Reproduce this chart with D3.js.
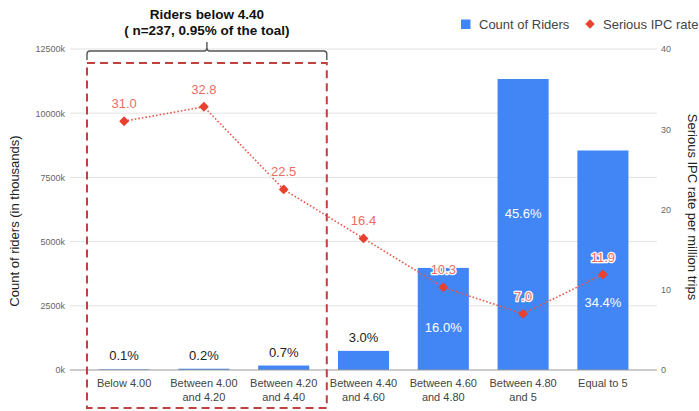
<!DOCTYPE html>
<html>
<head>
<meta charset="utf-8">
<script src="https://cdn.jsdelivr.net/npm/d3@7"></script>
<style>
  html, body { margin: 0; padding: 0; background: #fff; }
  svg { display: block; font-family: "Liberation Sans", Arial, sans-serif; }
</style>
</head>
<body>
<svg id="chart" width="699" height="411"></svg>
<script>
// Rider rating buckets
const categories = [
  ["Below 4.00"],
  ["Between 4.00", "and 4.20"],
  ["Between 4.20", "and 4.40"],
  ["Between 4.40", "and 4.60"],
  ["Between 4.60", "and 4.80"],
  ["Between 4.80", "and 5"],
  ["Equal to 5"]
];
// Count of riders (thousands)
const riderCounts = [25, 50, 174, 745, 3976, 11332, 8548];
// Share of all riders
const riderShares = ["0.1%", "0.2%", "0.7%", "3.0%", "16.0%", "45.6%", "34.4%"];
// Serious IPC rate per million trips
const ipcRates = [31.0, 32.8, 22.5, 16.4, 10.3, 7.0, 11.9];
// Axis ticks
const leftTicks = [0, 2500, 5000, 7500, 10000, 12500];
const rightTicks = [0, 10, 20, 30, 40];
const legendLabels = ["Count of Riders", "Serious IPC rate"];
const groupTitle = ["Riders below 4.40", "( n=237, 0.95% of the toal)"];

const BLUE = "#4285f4";
const RED = "#e8412f";
const RED_TEXT = "#ec6c5f";

const svg = d3.select("#chart");
const plot = { left: 70, right: 657, top: 49, bottom: 370 };

const keys = categories.map(c => c.join(" "));
const x = d3.scaleBand().domain(keys).range([plot.left, plot.right])
  .paddingInner(0.36).paddingOuter(0.358);
const yL = d3.scaleLinear().domain([0, 12500]).range([plot.bottom, plot.top]);
const yR = d3.scaleLinear().domain([0, 40]).range([plot.bottom, plot.top]);
const bw = x.bandwidth();
const cx = i => x(keys[i]) + bw / 2;

// Gridlines and left tick labels
const leftAxis = d3.axisLeft(yL).tickValues(leftTicks).tickSize(0).tickPadding(5)
  .tickFormat(d => d + "k");
svg.append("g").attr("transform", `translate(${plot.left},0)`).call(leftAxis)
  .call(g => g.select(".domain").remove())
  .call(g => g.selectAll("text").attr("fill", "#666").attr("font-size", 9)
    .attr("font-family", "Liberation Sans, Arial, sans-serif"));
svg.append("g").selectAll("line").data(leftTicks.filter(d => d > 0)).join("line")
  .attr("x1", plot.left).attr("x2", plot.right)
  .attr("y1", d => yL(d)).attr("y2", d => yL(d))
  .attr("stroke", "#e2e2e2").attr("stroke-width", 1);

// Right tick labels
const rightAxis = d3.axisRight(yR).tickValues(rightTicks).tickSize(0).tickPadding(4);
svg.append("g").attr("transform", `translate(${plot.right},0)`).call(rightAxis)
  .call(g => g.select(".domain").remove())
  .call(g => g.selectAll("text").attr("fill", "#666").attr("font-size", 9)
    .attr("font-family", "Liberation Sans, Arial, sans-serif"));

// Bars
svg.append("g").selectAll("rect").data(riderCounts).join("rect")
  .attr("x", (d, i) => x(keys[i])).attr("width", bw)
  .attr("y", d => yL(d)).attr("height", d => plot.bottom - yL(d))
  .attr("fill", BLUE);

// Baseline
svg.append("line").attr("x1", plot.left).attr("x2", plot.right)
  .attr("y1", yL(0)).attr("y2", yL(0)).attr("stroke", "#999").attr("stroke-width", 1);

// Category labels
const catG = svg.append("g").attr("font-size", 11).attr("fill", "#444").attr("text-anchor", "middle");
categories.forEach((lines, i) => {
  const t = catG.append("text").attr("x", cx(i)).attr("y", plot.bottom + 17);
  lines.forEach((ln, j) => t.append("tspan").attr("x", cx(i)).attr("dy", j === 0 ? 0 : 14).text(ln));
});

// Share labels: above short bars, inside tall bars
const insideFrac = [null, null, null, null, 0.58, 0.46, 0.69];
svg.append("g").attr("font-size", 13).attr("text-anchor", "middle")
  .selectAll("text").data(riderShares).join("text")
  .attr("x", (d, i) => cx(i))
  .attr("y", (d, i) => {
    const top = yL(riderCounts[i]);
    if (insideFrac[i] === null) return top - 9;
    return top + (plot.bottom - top) * insideFrac[i] + 4.7;
  })
  .attr("fill", (d, i) => insideFrac[i] === null ? "#222" : "#fff")
  .text(d => d);

// Rate line
const line = d3.line().x((d, i) => cx(i)).y(d => yR(d));
svg.append("path").datum(ipcRates).attr("d", line)
  .attr("fill", "none").attr("stroke", "#e8584a").attr("stroke-width", 1.6)
  .attr("stroke-dasharray", "1.6,2");

const diamond = d3.symbol().type(d3.symbolDiamond2).size(62);
svg.append("g").selectAll("path").data(ipcRates).join("path")
  .attr("d", diamond)
  .attr("transform", (d, i) => `translate(${cx(i)},${yR(d)})`)
  .attr("fill", RED);

svg.append("g").attr("font-size", 13).attr("text-anchor", "middle")
  .selectAll("text").data(ipcRates).join("text")
  .attr("x", (d, i) => cx(i)).attr("y", d => yR(d) - 13)
  .attr("fill", RED_TEXT)
  .attr("stroke", "#fff").attr("stroke-width", 2.5).attr("stroke-linejoin", "round")
  .attr("paint-order", "stroke")
  .text(d => d.toFixed(1));

// Axis titles
svg.append("text").attr("transform", `translate(19,221) rotate(-90)`)
  .attr("text-anchor", "middle").attr("font-size", 13).attr("fill", "#222")
  .text("Count of riders (in thousands)");
svg.append("text").attr("transform", `translate(688,207) rotate(90)`)
  .attr("text-anchor", "middle").attr("font-size", 13).attr("fill", "#222")
  .text("Serious IPC rate per million trips");

// Legend
const lg = svg.append("g").attr("font-size", 13).attr("fill", "#444");
lg.append("rect").attr("x", 461).attr("y", 19.5).attr("width", 9.5).attr("height", 9.5).attr("fill", BLUE);
lg.append("text").attr("x", 479).attr("y", 28.5).text(legendLabels[0]);
lg.append("path").attr("d", d3.symbol().type(d3.symbolDiamond2).size(56))
  .attr("transform", "translate(590,24)").attr("fill", RED);
lg.append("text").attr("x", 603).attr("y", 28.5).text(legendLabels[1]);

// Highlight box around the low-rating groups
const step = x.step();
const boxL = x(keys[0]) - 0.145 * step;
const boxR = x(keys[2]) + bw + 0.22 * step;
const boxT = 63, boxB = 408;
svg.append("rect").attr("x", boxL).attr("y", boxT)
  .attr("width", boxR - boxL).attr("height", boxB - boxT)
  .attr("fill", "none").attr("stroke", "#c0413d").attr("stroke-width", 2)
  .attr("stroke-dasharray", "8,5");

// Curly brace above the box
const bY = 51, mid = (boxL + boxR) / 2, r = 3;
const brace = d3.path();
brace.moveTo(boxL, 60);
brace.lineTo(boxL, bY + r);
brace.quadraticCurveTo(boxL, bY, boxL + r, bY);
brace.lineTo(mid - r, bY);
brace.quadraticCurveTo(mid, bY, mid, bY - r);
brace.lineTo(mid, 42);
brace.moveTo(mid, bY - r);
brace.quadraticCurveTo(mid, bY, mid + r, bY);
brace.lineTo(boxR - r, bY);
brace.quadraticCurveTo(boxR, bY, boxR, bY + r);
brace.lineTo(boxR, 60);
svg.append("path").attr("d", brace.toString()).attr("fill", "none")
  .attr("stroke", "#555").attr("stroke-width", 1.4);

svg.append("g").attr("font-size", 13.5).attr("font-weight", "bold").attr("fill", "#111")
  .attr("text-anchor", "middle")
  .selectAll("text").data(groupTitle).join("text")
  .attr("x", mid).attr("y", (d, i) => 19 + i * 16).text(d => d);
</script>
</body>
</html>
